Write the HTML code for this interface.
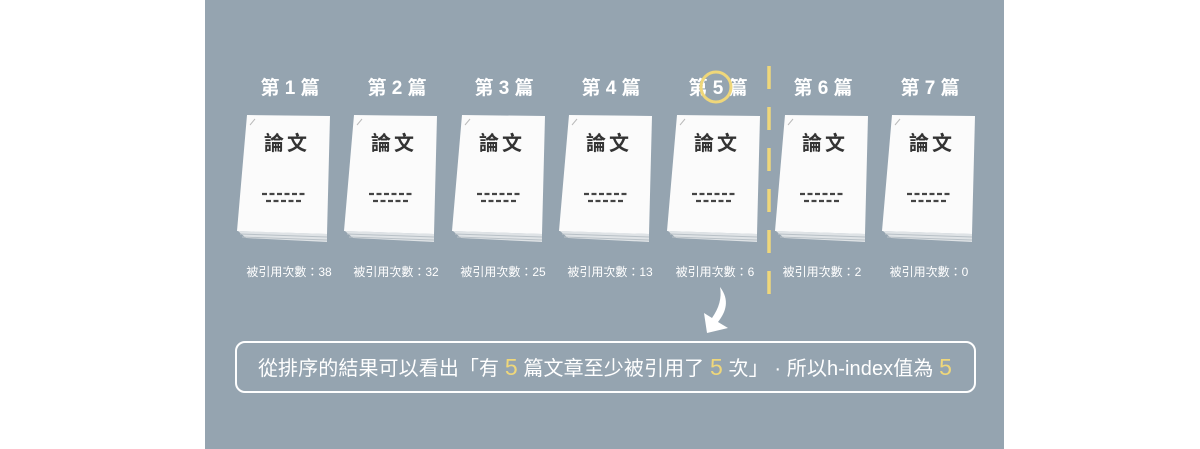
<!DOCTYPE html>
<html><head><meta charset="utf-8"><style>
html,body{margin:0;padding:0;background:#fff;}
svg{display:block;}
</style></head><body>
<svg width="1200" height="449" viewBox="0 0 1200 449" xmlns="http://www.w3.org/2000/svg" font-family="Liberation Sans, Noto Sans CJK TC, sans-serif">
<defs>
<g id="paper">
  <polygon points="238,231 327,234 327,242 246,238" fill="#dfe3e6"/>
  <polyline points="240,234 327,237" stroke="#b9c1c7" stroke-width="1" fill="none"/>
  <polyline points="242,237 327,240" stroke="#b9c1c7" stroke-width="1" fill="none"/>
  <polygon points="247,115 330,116 327,234 237,231" fill="#fbfbfb"/>
  <line x1="250" y1="125" x2="255" y2="119" stroke="#bbb" stroke-width="1"/>
  <text x="287" y="150" font-size="20" font-weight="bold" fill="#333" text-anchor="middle" font-family="Noto Sans CJK TC, sans-serif" letter-spacing="3">論文</text>
  <line x1="262" y1="194" x2="306" y2="194" stroke="#444" stroke-width="2.2" stroke-dasharray="5,2.5"/>
  <line x1="266" y1="201" x2="301" y2="201" stroke="#444" stroke-width="2.2" stroke-dasharray="5,2.5"/>
</g>
</defs>
<rect x="205" y="0" width="799" height="449" fill="#95a4b0"/>
<g fill="#fff" font-size="19" font-weight="bold" text-anchor="middle" font-family="Liberation Sans, Noto Sans CJK TC, sans-serif">
<text x="290" y="94">第 1 篇</text>
<text x="397" y="94">第 2 篇</text>
<text x="504" y="94">第 3 篇</text>
<text x="611" y="94">第 4 篇</text>
<text x="718" y="94">第 5 篇</text>
<text x="823" y="94">第 6 篇</text>
<text x="930" y="94">第 7 篇</text>
</g>
<use href="#paper"/>
<use href="#paper" x="107"/>
<use href="#paper" x="215"/>
<use href="#paper" x="322"/>
<use href="#paper" x="430"/>
<use href="#paper" x="538"/>
<use href="#paper" x="645"/>
<circle cx="716" cy="87" r="15" fill="none" stroke="#efd77a" stroke-width="3"/>
<line x1="769" y1="66" x2="769" y2="300" stroke="#efd77a" stroke-width="3.5" stroke-dasharray="23,18"/>
<g fill="#fff" font-size="12" text-anchor="middle" font-family="Liberation Sans, Noto Sans CJK TC, sans-serif">
<text x="289" y="276">被引用次數：38</text>
<text x="396" y="276">被引用次數：32</text>
<text x="503" y="276">被引用次數：25</text>
<text x="610" y="276">被引用次數：13</text>
<text x="715" y="276">被引用次數：6</text>
<text x="822" y="276">被引用次數：2</text>
<text x="929" y="276">被引用次數：0</text>
</g>
<path d="M720,287 C730,300 726,312 718,322 L728,328 L707,333 L704,313 L712,318 C719,308 722,298 720,287 Z" fill="#fff"/>
<rect x="236" y="342" width="739" height="50" rx="9" fill="none" stroke="#fff" stroke-width="2"/>
<text x="605" y="375" font-size="20" fill="#fff" text-anchor="middle" letter-spacing="0.1" font-family="Liberation Sans, Noto Sans CJK TC, sans-serif">從排序的結果可以看出「有 <tspan fill="#efd77a" font-size="23">5</tspan> 篇文章至少被引用了 <tspan fill="#efd77a" font-size="23">5</tspan> 次」 · 所以h-index值為 <tspan fill="#efd77a" font-size="23">5</tspan></text>
</svg>
</body></html>
